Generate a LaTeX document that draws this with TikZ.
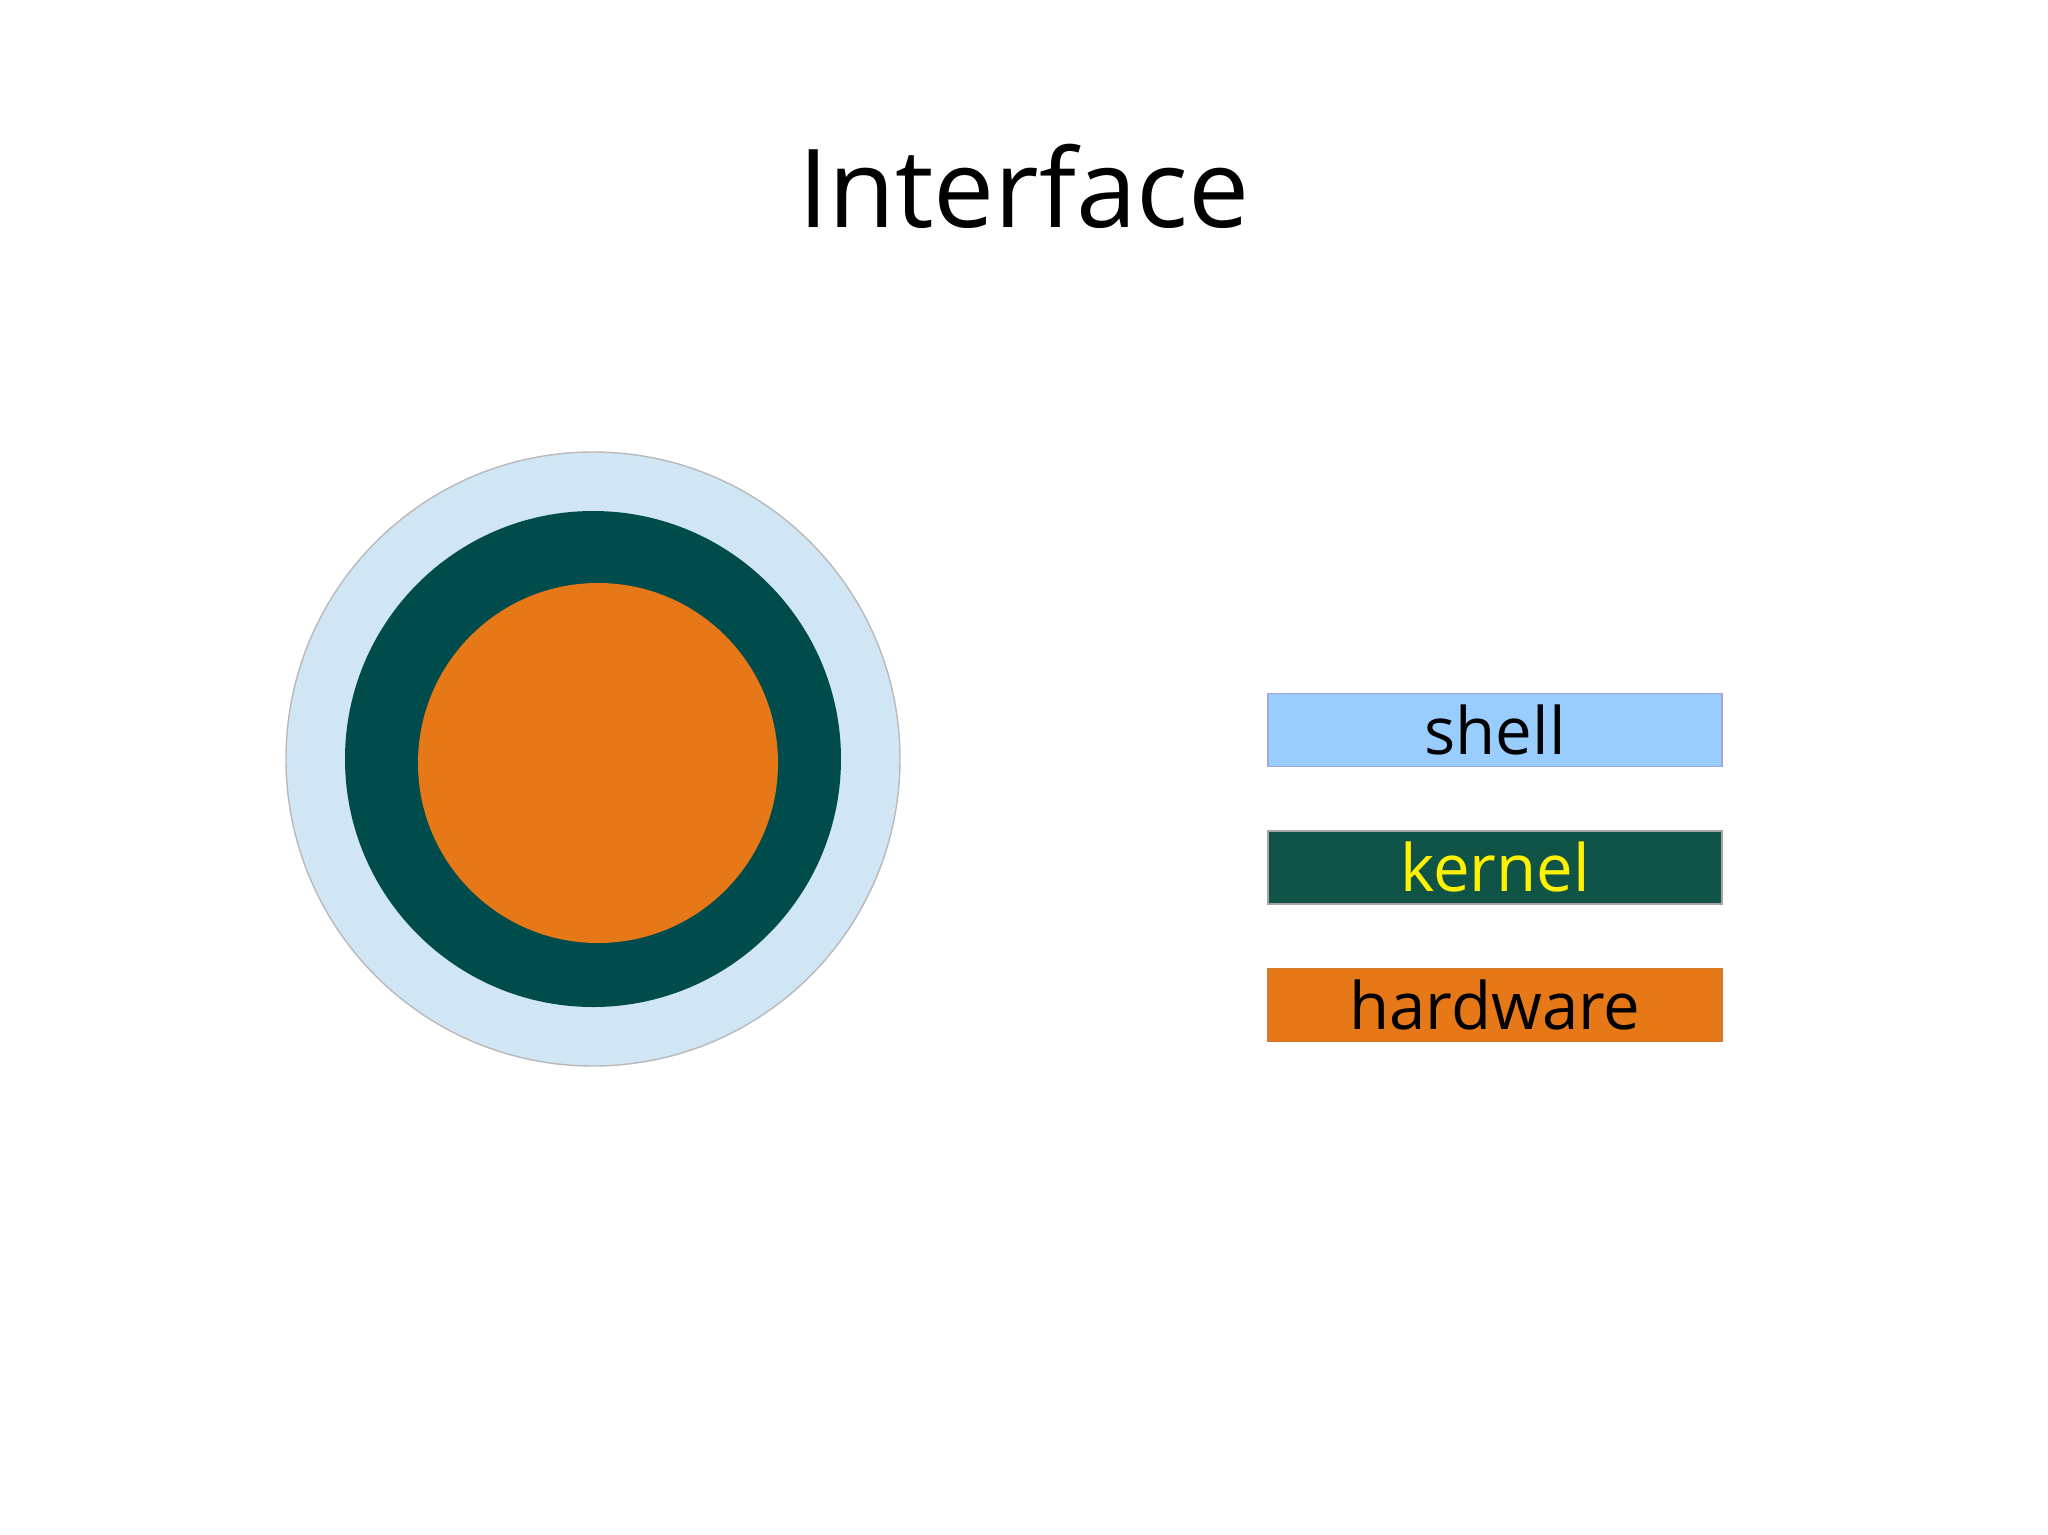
\documentclass[tikz,border=0pt]{standalone}
\usepackage{fontspec}
\setmainfont{Open Sans}
\usetikzlibrary{positioning}
\definecolor{shellblue}{HTML}{D0E6F5}
\definecolor{keyblue}{HTML}{99CCFF}
\definecolor{kernelteal}{HTML}{004C4C}
\definecolor{keyteal}{HTML}{105448}
\definecolor{hworange}{HTML}{E67817}

\begin{document}
\begin{tikzpicture}[
  ring/.style={circle, inner sep=0pt},
  keybox/.style={rectangle, minimum width=4.54cm, minimum height=0.73cm,
                 inner sep=0pt, font=\fontsize{18.6}{22}\selectfont},
  node distance=0.63cm
]
  \useasboundingbox[fill=white] (0,0) rectangle (20.48,-15.35);

  \node[font=\fontsize{31}{37}\selectfont, anchor=base] (title)
    at (10.24,-2.27) {Interface};

  % the layers, outside in
  \node[ring, fill=shellblue, draw=gray!55, line width=0.4pt,
        minimum size=6.14cm] (shellring) at (5.93,-7.59) {};
  \node[ring, fill=kernelteal, minimum size=4.96cm] (kernelring)
    at (shellring.center) {};
  \node[ring, fill=hworange, minimum size=3.60cm] (hwcore)
    at (5.98,-7.63) {};

  % legend
  \node[keybox, fill=keyblue, draw=gray!60!blue!50, line width=0.4pt]
    (shellkey) at (14.95,-7.30) {shell};
  \node[keybox, fill=keyteal, draw=gray!70, line width=0.4pt,
        text=yellow, below=of shellkey] (kernelkey) {kernel};
  \node[keybox, fill=hworange, draw=hworange!80!gray, line width=0.4pt,
        below=of kernelkey] (hwkey) {hardware};
\end{tikzpicture}
\end{document}
